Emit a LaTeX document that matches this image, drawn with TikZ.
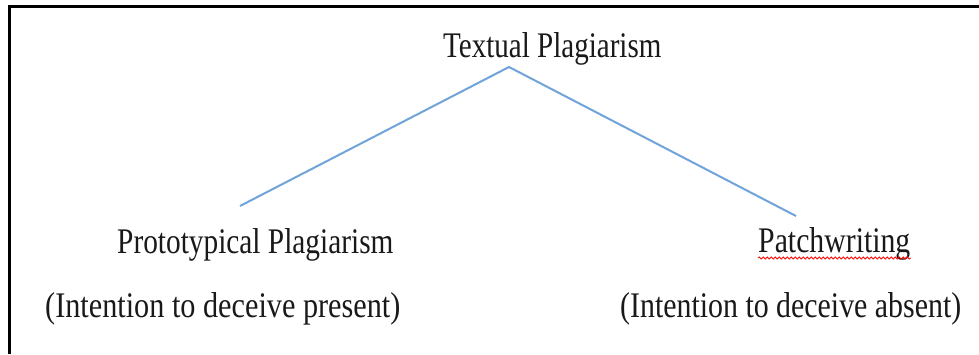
\documentclass[tikz,border=0pt]{standalone}
\usepackage{fontspec}
\setmainfont{Liberation Serif}
\usepackage{graphicx}
\usetikzlibrary{decorations.pathmorphing}
\newcommand{\sqz}[2][0.8]{\scalebox{#1}[1]{#2}}
\definecolor{linkblue}{RGB}{111,163,217}
\tikzset{
  lbl/.style={anchor=base west, inner sep=0pt, font=\fontsize{36}{40}\selectfont, text=black!90},
  branch/.style={draw=linkblue, line width=2pt},
  frame/.style={draw=black, line width=3pt},
  spell/.style={draw=red, line width=0.8pt, decorate, decoration={snake, amplitude=1.1pt, segment length=4pt}}
}
\begin{document}
\begin{tikzpicture}[x=1pt, y=-1pt]
\useasboundingbox (0,0) rectangle (979,354);
\draw[frame] (9,354) -- (9,6.5) -- (979,6.5);
\node[lbl] (top) at (443,57.5) {\sqz[0.807]{Textual Plagiarism}};
\node[lbl] (proto) at (117,253) {\sqz[0.815]{Prototypical Plagiarism}};
\node[lbl] (patch) at (758,252) {\sqz[0.827]{Patchwriting}};
\node[lbl] (present) at (45,317) {\sqz[0.84]{(Intention to deceive present)}};
\node[lbl] (absent) at (620,317) {\sqz[0.83]{(Intention to deceive absent)}};
\coordinate (apex) at (509,67);
\coordinate (lend) at (240,206);
\coordinate (rend) at (796,216);
\draw[branch] (lend) -- (apex) -- (rend);
\coordinate (sqa) at (patch.base west);
\coordinate (sqb) at (patch.base east);
\draw[spell] ([yshift=-6pt]sqa) -- ([yshift=-6pt]sqb);
\end{tikzpicture}
\end{document}
